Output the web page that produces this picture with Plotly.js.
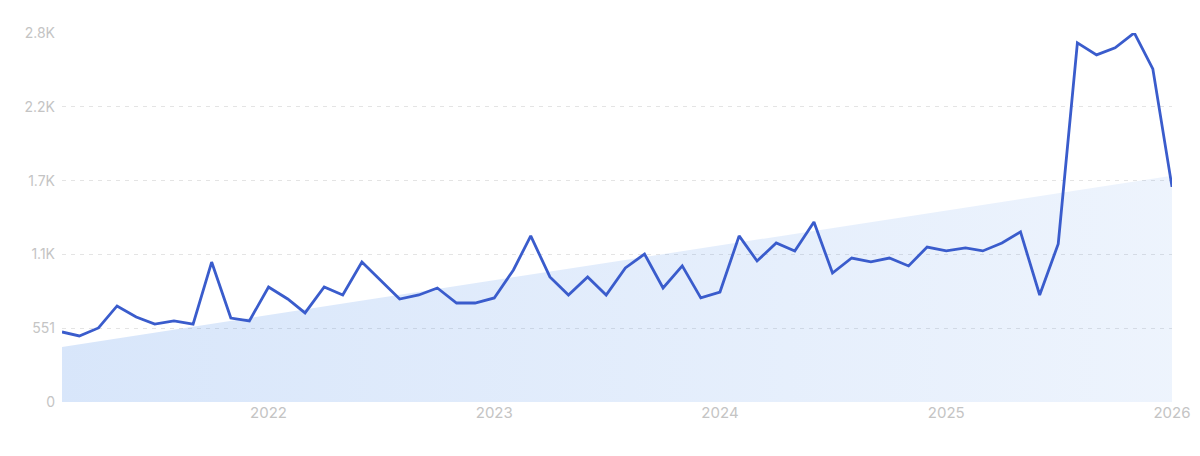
<!DOCTYPE html>
<html>
<head>
<meta charset="utf-8">
<script src="https://cdn.plot.ly/plotly-3.0.1.min.js"></script>
<style>html,body{margin:0;padding:0;background:#fff}#chart{width:1200px;height:456px}</style>
</head>
<body>
<div id="chart"></div>
<script>
const startYear = 2021, startMonth = 2;
const values = [523, 493, 553, 717, 635, 582, 605, 582, 1045, 627, 605,
  859, 769, 665, 859, 799, 1045, 907, 769, 799, 851, 739, 739,
  777, 986, 1240, 934, 799, 934, 799, 1001, 1105, 851, 1016, 777,
  821, 1240, 1053, 1187, 1128, 1344, 963, 1075, 1046, 1075, 1016, 1157,
  1128, 1150, 1128, 1187, 1270, 799, 1180, 2681, 2592, 2644, 2756, 2487, 1606];
const trendValues = [411, 1690];
const tickVals = [0, 551, 1102, 1653, 2204, 2755];
const tickLabels = ["0", "551", "1.1K", "1.7K", "2.2K", "2.8K"];
const xTickVals = ["2022-01-01", "2023-01-01", "2024-01-01", "2025-01-01", "2026-01-01"];
const xTickLabels = ["2022", "2023", "2024", "2025", "2026"];

function monthDate(i) {
  const m = startMonth - 1 + i;
  const y = startYear + Math.floor(m / 12);
  const mm = (m % 12) + 1;
  return y + "-" + String(mm).padStart(2, "0") + "-01";
}
const dates = values.map((_, i) => monthDate(i));
const trendDates = [dates[0], dates[dates.length - 1]];

const traces = [
  {
    x: trendDates, y: trendValues, type: "scatter", mode: "lines",
    line: {width: 0, color: "rgba(0,0,0,0)"},
    fill: "tozeroy",
    fillcolor: "rgba(60,130,230,0.15)",
    fillgradient: {type: "horizontal", colorscale: [[0, "rgba(60,130,232,0.2)"], [1, "rgba(60,130,232,0.09)"]]},
    hoverinfo: "skip", showlegend: false
  },
  {
    x: dates, y: values, type: "scatter", mode: "lines",
    line: {color: "#3a5ccc", width: 2.8},
    cliponaxis: false, showlegend: false
  }
];

const layout = {
  width: 1200, height: 456,
  margin: {l: 62, r: 28, t: 33, b: 54},
  paper_bgcolor: "#ffffff", plot_bgcolor: "#ffffff",
  font: {family: "Inter, 'Noto Sans', sans-serif", color: "#c4c4c4"},
  showlegend: false,
  xaxis: {
    type: "date",
    range: [dates[0], dates[dates.length - 1]],
    tickvals: xTickVals, ticktext: xTickLabels,
    showgrid: false, zeroline: false, showline: false,
    ticks: "", ticklen: 0,
    tickfont: {size: 15, color: "#c4c4c4"},
    fixedrange: true
  },
  yaxis: {
    range: [0, 2755],
    tickvals: tickVals, ticktext: tickLabels,
    showgrid: true, gridcolor: "#e4e4e4", griddash: "4px,5px", gridwidth: 1,
    zeroline: false, showline: false,
    ticks: "", ticklabelstandoff: 6,
    tickfont: {size: 14, color: "#c4c4c4"},
    fixedrange: true
  }
};

Plotly.newPlot("chart", traces, layout, {displayModeBar: false, staticPlot: true});
</script>
</body>
</html>
